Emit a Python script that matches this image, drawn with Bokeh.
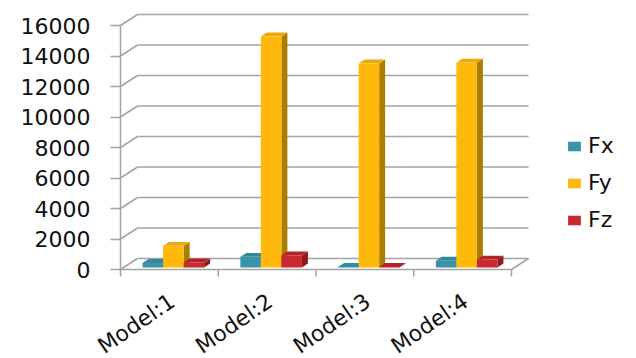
from bokeh.plotting import figure
from bokeh.models import Range1d, FixedTicker, Legend, LegendItem, LabelSet, ColumnDataSource
from bokeh.core.properties import value
from bokeh.embed import file_html
from bokeh.resources import INLINE

# ---------------- data ----------------
categories = ["Model:1", "Model:2", "Model:3", "Model:4"]
series_names = ["Fx", "Fy", "Fz"]
fx_values = [300, 700, 40, 450]
fy_values = [1420, 15150, 13380, 13440]
fz_values = [330, 800, 40, 520]
y_tick_values = [0, 2000, 4000, 6000, 8000, 10000, 12000, 14000, 16000]

series_values = [fx_values, fy_values, fz_values]

# ---------------- styles / geometry ----------------
W, H = 636, 358
AXIS_PX = 120                  # x pixel of the front value axis
ZERO_PX = 269                  # y pixel of the front zero line
cat_px = 97.75                 # pixels per category on the front plane
val_per_px = 2000 / 30.5       # value units per pixel

x_start = -AXIS_PX / cat_px
x_end = (W - AXIS_PX) / cat_px
y_start = -(H - ZERO_PX) * val_per_px
y_end = ZERO_PX * val_per_px

def px_x(p):
    return p / cat_px

def px_y(p):
    return p * val_per_px

# depth vectors (data units)
WALL_DX, WALL_DY = px_x(17), px_y(11)     # full depth of the wall
BAR_OX, BAR_OY = px_x(4), px_y(2)         # bars plane offset
BAR_DX, BAR_DY = px_x(6), px_y(3.9)       # bar depth
BAR_W = 0.21

front_colors = ["#3A93A8", "#FFB80C", "#C8292E"]
side_colors = ["#276C7D", "#AC7E00", "#8C1C20"]
top_colors = ["#3289A0", "#EBA90A", "#B42328"]
grid_color = "#A3A3A3"
text_color = "#111111"
FONT = "DejaVu Sans"

n = len(categories)

p = figure(width=W, height=H, output_backend="svg", toolbar_location=None,
           x_range=Range1d(x_start, x_end), y_range=Range1d(y_start, y_end),
           min_border_left=0, min_border_top=0, min_border_bottom=0,
           min_border_right=0, x_axis_location=None, y_axis_location="left")
p.outline_line_color = None
p.grid.visible = False
p.background_fill_color = "white"
p.border_fill_color = "white"

# ---------------- walls ----------------
y_top = y_tick_values[-1]
for v in y_tick_values:
    # back wall gridlines
    p.line([WALL_DX, n + WALL_DX], [v + WALL_DY, v + WALL_DY],
           line_color=grid_color, line_width=1.5)
    # side wall diagonals
    p.line([0, WALL_DX], [v, v + WALL_DY], line_color=grid_color, line_width=1.5)
# floor front edge and right edge
p.line([0, n], [0, 0], line_color=grid_color, line_width=1.5)
p.line([n, n + WALL_DX], [0, WALL_DY], line_color=grid_color, line_width=1.5)
# front vertical axis line
p.line([0, 0], [0, y_top], line_color=grid_color, line_width=1.5)
# category boundary ticks
for k in range(n + 1):
    p.line([k, k], [0, -px_y(7)], line_color=grid_color, line_width=1.5)

# ---------------- 3D bars ----------------
front_renderers = []
for s, vals in enumerate(series_values):
    lefts, rights, tops_, bottoms = [], [], [], []
    side_xs, side_ys, top_xs, top_ys = [], [], [], []
    for i, v in enumerate(vals):
        xl = i + 0.5 + (s - 1.5) * BAR_W + BAR_OX
        xr = xl + BAR_W
        yb = BAR_OY
        yt = BAR_OY + v
        lefts.append(xl); rights.append(xr); bottoms.append(yb); tops_.append(yt)
        side_xs.append([xr, xr + BAR_DX, xr + BAR_DX, xr])
        side_ys.append([yb, yb + BAR_DY, yt + BAR_DY, yt])
        top_xs.append([xl, xr, xr + BAR_DX, xl + BAR_DX])
        top_ys.append([yt, yt, yt + BAR_DY, yt + BAR_DY])
    p.patches(side_xs, side_ys, fill_color=side_colors[s], line_color=None)
    p.patches(top_xs, top_ys, fill_color=top_colors[s], line_color=None)
    r = p.quad(left=lefts, right=rights, bottom=bottoms, top=tops_,
               fill_color=front_colors[s], line_color=None)
    front_renderers.append(r)

# ---------------- category labels (rotated) ----------------
label_src = ColumnDataSource(dict(
    x=[i + 0.5 - px_x(4) for i in range(n)],
    y=[-px_y(19)] * n,
    text=categories,
))
labels = LabelSet(x="x", y="y", text="text", source=label_src, angle=0.6,
                  text_align="right", text_baseline="top",
                  text_font=value(FONT), text_font_size=value("22px"),
                  text_color=text_color)
p.add_layout(labels)

# ---------------- y axis (placed on the front wall edge) ----------------
yax = p.yaxis[0]
yax.fixed_location = 0
yax.ticker = FixedTicker(ticks=y_tick_values)
yax.axis_line_color = None
yax.major_tick_out = 10
yax.major_tick_in = 0
yax.major_tick_line_color = grid_color
yax.major_tick_line_width = 1.5
yax.minor_tick_line_color = None
yax.major_label_standoff = 20
yax.major_label_text_font = FONT
yax.major_label_text_font_size = "22px"
yax.major_label_text_color = text_color

# ---------------- legend ----------------
legend = Legend(items=[LegendItem(label=nm, renderers=[r])
                       for nm, r in zip(series_names, front_renderers)],
                location=(566, 126), orientation="vertical",
                glyph_width=16, glyph_height=12, label_standoff=6,
                label_text_font=FONT, label_text_font_size="22px",
                label_text_color=text_color,
                spacing=12, padding=0, margin=0,
                border_line_color=None, background_fill_alpha=0)
p.add_layout(legend)

open("out.html", "w").write(file_html(p, INLINE))
